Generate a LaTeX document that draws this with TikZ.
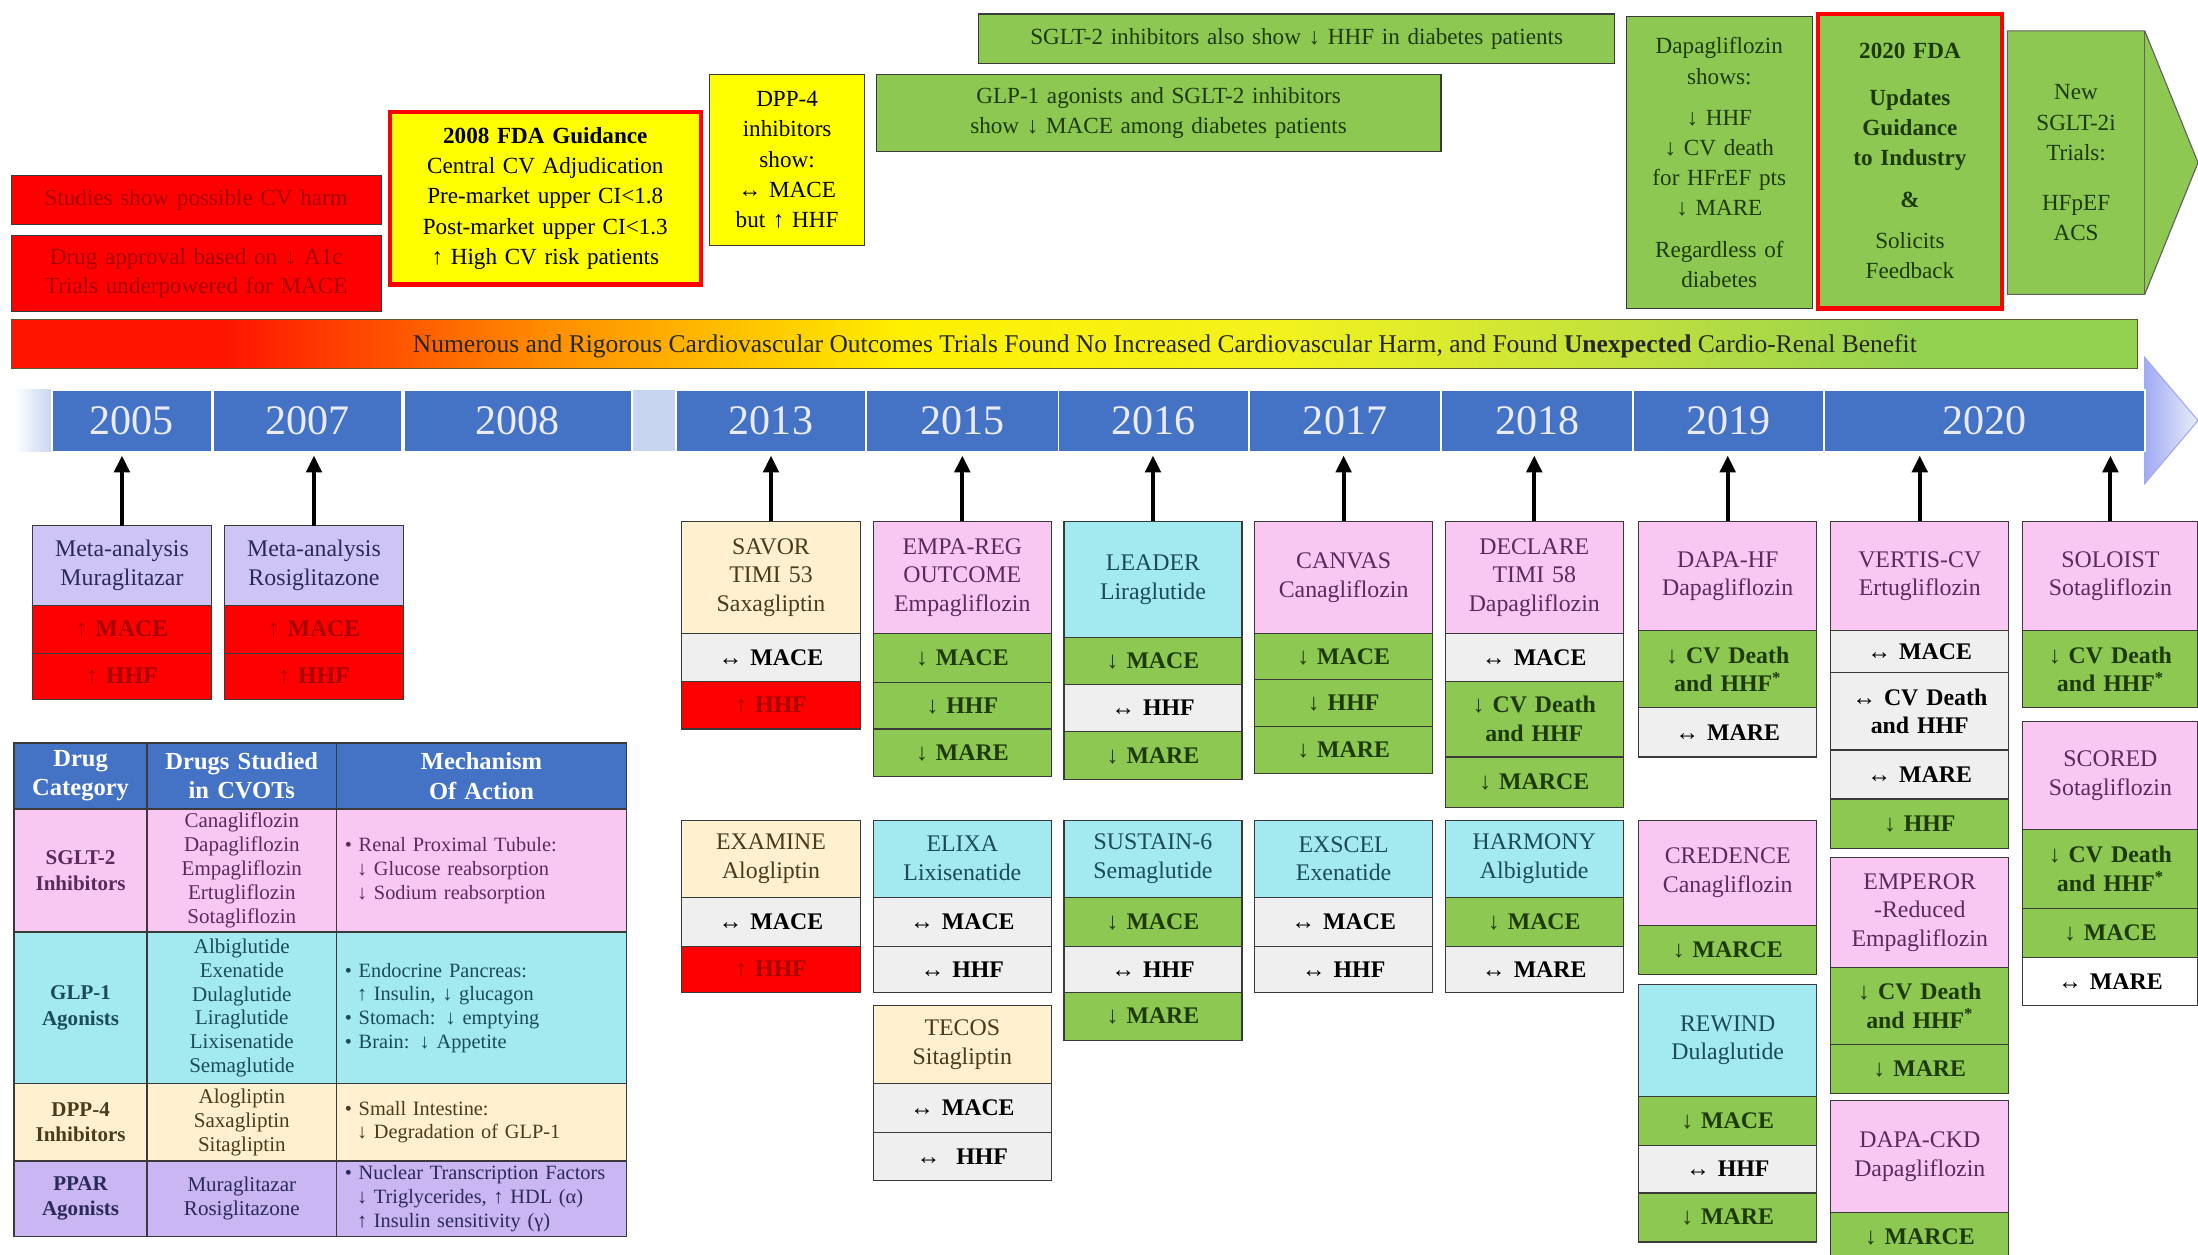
\documentclass[tikz,border=0pt]{standalone}
\usepackage{fontspec}
\setmainfont{Liberation Serif}
\usetikzlibrary{arrows.meta}
\definecolor{cred}{HTML}{FF0000}
\definecolor{credtxt}{HTML}{A80000}
\definecolor{cyel}{HTML}{FFFF00}
\definecolor{cgrn}{HTML}{8DC853}
\definecolor{cgrntxt}{HTML}{1E3A0A}
\definecolor{cpink}{HTML}{F9C8F2}
\definecolor{cpinktxt}{HTML}{5A2A5E}
\definecolor{ccyan}{HTML}{A3E9F0}
\definecolor{ccyantxt}{HTML}{1B4B57}
\definecolor{ccream}{HTML}{FFF1CF}
\definecolor{ccreamtxt}{HTML}{4A3A1E}
\definecolor{clav}{HTML}{CFC5F5}
\definecolor{clavtxt}{HTML}{2A2A5A}
\definecolor{cppar}{HTML}{C9B6F2}
\definecolor{cgray}{HTML}{EFEFEF}
\definecolor{cblue}{HTML}{4472C4}
\definecolor{cpale}{HTML}{C8D5F0}
\definecolor{cbord}{HTML}{3A3A3A}
\definecolor{gA}{HTML}{FF1400}
\definecolor{gB}{HTML}{FF8C00}
\definecolor{gC}{HTML}{FFF000}
\definecolor{gD}{HTML}{F2F21E}
\definecolor{gE}{HTML}{C4E23C}
\definecolor{gF}{HTML}{92D050}
\pgfdeclarehorizontalshading{rygbar}{100bp}{color(0bp)=(gA); color(25bp)=(gA); color(30bp)=(gA); color(37.5bp)=(gB); color(46bp)=(gC); color(55bp)=(gD); color(62.5bp)=(gE); color(70bp)=(gF); color(75bp)=(gF); color(100bp)=(gF)}
\newcommand\mybox[7]{%
  \pgfmathsetmacro\bw{#5-#3}%
  \pgfmathsetmacro\bh{#6-#4}%
  \pgfmathsetmacro\tw{#5-#3-4}%
  \pgfmathsetmacro\twm{#5-#3-12}%
  \pgfmathsetmacro\cx{(#3+#5)/2}%
  \pgfmathsetmacro\cy{(#4+#6)/2}%
  \node[cell, minimum width=\bw pt, minimum height=\bh pt, text width=\tw pt, #2] (#1) at (\cx,\cy) {#7};%
}
\tikzset{
  cell/.style={draw=cbord, line width=0.8pt, inner xsep=2pt, inner ysep=1pt, outer sep=0pt, align=center, font=\fontsize{17}{20.5}\selectfont},
  hpink/.style={fill=cpink, text=cpinktxt},
  hcyan/.style={fill=ccyan, text=ccyantxt},
  hcream/.style={fill=ccream, text=ccreamtxt},
  hlav/.style={fill=clav, text=clavtxt},
  sgreen/.style={fill=cgrn, text=cgrntxt, font=\fontsize{17}{20.5}\selectfont\bfseries},
  sgray/.style={fill=cgray, text=black, font=\fontsize{17}{20.5}\selectfont\bfseries},
  swhite/.style={fill=white, text=black, font=\fontsize{17}{20.5}\selectfont\bfseries},
  sred/.style={fill=cred, text=credtxt, font=\fontsize{17}{20.5}\selectfont\bfseries},
  redbox/.style={fill=cred, text=credtxt, font=\fontsize{16.5}{21}\selectfont},
  fdabox/.style={fill=cyel, draw=red, line width=3pt, text=black, font=\fontsize{16.5}{21.5}\selectfont},
  yelbox/.style={fill=cyel, text=black, font=\fontsize{16.5}{21.5}\selectfont},
  grnbox/.style={fill=cgrn, text=cgrntxt, font=\fontsize{16.5}{21.5}\selectfont},
  yearseg/.style={fill=cblue, draw=white, line width=1.2pt, text=white!92!blue, font=\fontsize{30}{30}\selectfont},
  thead/.style={fill=cblue, text=white, draw=cbord, line width=1.2pt, font=\fontsize{17.5}{21}\selectfont\bfseries},
  tcat/.style={draw=cbord, line width=1.2pt, font=\fontsize{15}{18}\selectfont\bfseries},
  tdrug/.style={draw=cbord, line width=1.2pt, font=\fontsize{15}{17}\selectfont, inner ysep=0pt},
  tmech/.style={draw=cbord, line width=1.2pt, font=\fontsize{14.5}{17}\selectfont, align=left, text width=\twm pt, inner xsep=6pt, inner ysep=0pt},
  uparr/.style={-{Triangle[length=12pt,width=11pt]}, line width=2.8pt, black}
}
\begin{document}
\begin{tikzpicture}[x=1pt, y=-1pt]
\useasboundingbox (0,0) rectangle (1568,895);
\fill[white] (0,0) rectangle (1568,895);

% ---------- top events ----------
\mybox{harm}{redbox}{8}{125}{272}{160}{Studies show possible CV harm}
\mybox{approval}{redbox}{8}{168}{272}{222}{Drug approval based on ↓ A1c\\Trials underpowered for MACE}
\mybox{fda08}{fdabox}{278}{80}{500}{203}{\textbf{2008 FDA Guidance}\\Central CV Adjudication\\Pre-market upper CI<1.8\\Post-market upper CI<1.3\\↑ High CV risk patients}
\mybox{dppshow}{yelbox}{506}{53}{617}{175}{DPP-4\\inhibitors\\show:\\↔ MACE\\but ↑ HHF}
\mybox{glpsglt}{grnbox}{625}{53}{1028}{108}{GLP-1 agonists and SGLT-2 inhibitors\\show ↓ MACE among diabetes patients}
\mybox{sglthhf}{grnbox}{698}{10}{1152}{45}{SGLT-2 inhibitors also show ↓ HHF in diabetes patients}
\mybox{dapashow}{grnbox}{1160}{12}{1293}{220}{Dapagliflozin\\shows:\\[8pt]↓ HHF\\↓ CV death\\for HFrEF pts\\↓ MARE\\[8pt]Regardless of\\diabetes}
\mybox{fda20}{grnbox, draw=red, line width=3pt}{1297}{10}{1428}{220}{\textbf{2020 FDA}\\[12pt]\textbf{Updates}\\\textbf{Guidance}\\\textbf{to Industry}\\[8pt]\textbf{\&}\\[8pt]Solicits\\Feedback}
\filldraw[fill=cgrn, draw=cbord!80, line width=0.8pt] (1432,22) -- (1530,22) -- (1568,116) -- (1530,210) -- (1432,210) -- cycle;
\draw[cbord!80, line width=0.8pt] (1530,22) -- (1530,210);
\node[text=cgrntxt, align=center, font=\fontsize{16.5}{21.5}\selectfont] (newtrials) at (1481,116) {New\\SGLT-2i\\Trials:\\[14pt]HFpEF\\ACS};

% ---------- gradient bar ----------
\node[shade, shading=rygbar, draw=black!45!olive, line width=0.8pt, minimum width=1517pt, minimum height=35pt, inner sep=0pt] (cvbar) at (766.5,245.5) {};
\node[text=black!85, font=\fontsize{18.2}{20}\selectfont, inner sep=0pt] (cvtext) at (831,247) {Numerous and Rigorous Cardiovascular Outcomes Trials Found No Increased Cardiovascular Harm, and Found \textbf{Unexpected} Cardio-Renal Benefit};

% ---------- timeline ----------
\fill[cpale] (37,278) rectangle (1530,322);
\shade[left color=white, right color=cpale] (10,278) rectangle (37,322);
\shade[left color=cpale!80!blue, right color=white!60!cpale, draw=cpale!80!blue, line width=0.8pt] (1530,255) -- (1568,300) -- (1530,345) -- cycle;
\mybox{y05}{yearseg}{37}{278}{151}{322}{2005}
\mybox{y07}{yearseg}{152}{278}{287}{322}{2007}
\mybox{y08}{yearseg}{288}{278}{451}{322}{2008}
\mybox{y13}{yearseg}{482}{278}{618}{322}{2013}
\mybox{y15}{yearseg}{618}{278}{755}{322}{2015}
\mybox{y16}{yearseg}{755}{278}{891}{322}{2016}
\mybox{y17}{yearseg}{891}{278}{1028}{322}{2017}
\mybox{y18}{yearseg}{1028}{278}{1165}{322}{2018}
\mybox{y19}{yearseg}{1165}{278}{1301}{322}{2019}
\mybox{y20}{yearseg}{1301}{278}{1530}{322}{2020}
\coordinate (tlb) at (0,325);

% ---------- studies: 2005 / 2007 ----------
\mybox{mura}{hlav}{23}{375}{151}{432}{Meta-analysis\\Muraglitazar}
\mybox{mura1}{sred}{23}{432}{151}{466}{↑ MACE}
\mybox{mura2}{sred}{23}{466}{151}{499}{↑ HHF}
\mybox{rosi}{hlav}{160}{375}{288}{432}{Meta-analysis\\Rosiglitazone}
\mybox{rosi1}{sred}{160}{432}{288}{466}{↑ MACE}
\mybox{rosi2}{sred}{160}{466}{288}{499}{↑ HHF}

% ---------- 2013 ----------
\mybox{savor}{hcream}{486}{372}{614}{452}{SAVOR\\TIMI 53\\Saxagliptin}
\mybox{savor1}{sgray}{486}{452}{614}{486}{↔ MACE}
\mybox{savor2}{sred}{486}{486}{614}{520}{↑ HHF}
\mybox{examine}{hcream}{486}{585}{614}{640}{EXAMINE\\Alogliptin}
\mybox{examine1}{sgray}{486}{640}{614}{675}{↔ MACE}
\mybox{examine2}{sred}{486}{675}{614}{708}{↑ HHF}

% ---------- 2015 ----------
\mybox{empa}{hpink}{623}{372}{750}{452}{EMPA-REG\\OUTCOME\\Empagliflozin}
\mybox{empa1}{sgreen}{623}{452}{750}{487}{↓ MACE}
\mybox{empa2}{sgreen}{623}{487}{750}{520}{↓ HHF}
\mybox{empa3}{sgreen}{623}{520}{750}{554}{↓ MARE}
\mybox{elixa}{hcyan}{623}{585}{750}{640}{ELIXA\\Lixisenatide}
\mybox{elixa1}{sgray}{623}{640}{750}{675}{↔ MACE}
\mybox{elixa2}{sgray}{623}{675}{750}{708}{↔ HHF}
\mybox{tecos}{hcream}{623}{717}{750}{773}{TECOS\\Sitagliptin}
\mybox{tecos1}{sgray}{623}{773}{750}{808}{↔ MACE}
\mybox{tecos2}{sgray}{623}{808}{750}{842}{↔ \ HHF}

% ---------- 2016 ----------
\mybox{leader}{hcyan}{759}{372}{886}{455}{LEADER\\Liraglutide}
\mybox{leader1}{sgreen}{759}{455}{886}{488}{↓ MACE}
\mybox{leader2}{sgray}{759}{488}{886}{522}{↔ HHF}
\mybox{leader3}{sgreen}{759}{522}{886}{556}{↓ MARE}
\mybox{sustain}{hcyan}{759}{585}{886}{640}{SUSTAIN-6\\Semaglutide}
\mybox{sustain1}{sgreen}{759}{640}{886}{675}{↓ MACE}
\mybox{sustain2}{sgray}{759}{675}{886}{708}{↔ HHF}
\mybox{sustain3}{sgreen}{759}{708}{886}{742}{↓ MARE}

% ---------- 2017 ----------
\mybox{canvas}{hpink}{895}{372}{1022}{452}{CANVAS\\Canagliflozin}
\mybox{canvas1}{sgreen}{895}{452}{1022}{485}{↓ MACE}
\mybox{canvas2}{sgreen}{895}{485}{1022}{518}{↓ HHF}
\mybox{canvas3}{sgreen}{895}{518}{1022}{552}{↓ MARE}
\mybox{exscel}{hcyan}{895}{585}{1022}{640}{EXSCEL\\Exenatide}
\mybox{exscel1}{sgray}{895}{640}{1022}{675}{↔ MACE}
\mybox{exscel2}{sgray}{895}{675}{1022}{708}{↔ HHF}

% ---------- 2018 ----------
\mybox{declare}{hpink}{1031}{372}{1158}{452}{DECLARE\\TIMI 58\\Dapagliflozin}
\mybox{declare1}{sgray}{1031}{452}{1158}{486}{↔ MACE}
\mybox{declare2}{sgreen}{1031}{486}{1158}{540}{↓ CV Death\\and HHF}
\mybox{declare3}{sgreen}{1031}{540}{1158}{576}{↓ MARCE}
\mybox{harmony}{hcyan}{1031}{585}{1158}{640}{HARMONY\\Albiglutide}
\mybox{harmony1}{sgreen}{1031}{640}{1158}{675}{↓ MACE}
\mybox{harmony2}{sgray}{1031}{675}{1158}{708}{↔ MARE}

% ---------- 2019 ----------
\mybox{dapahf}{hpink}{1169}{372}{1296}{450}{DAPA-HF\\Dapagliflozin}
\mybox{dapahf1}{sgreen}{1169}{450}{1296}{505}{↓ CV Death\\and HHF\textsuperscript{*}}
\mybox{dapahf2}{sgray}{1169}{505}{1296}{540}{↔ MARE}
\mybox{credence}{hpink}{1169}{585}{1296}{660}{CREDENCE\\Canagliflozin}
\mybox{credence1}{sgreen}{1169}{660}{1296}{695}{↓ MARCE}
\mybox{rewind}{hcyan}{1169}{702}{1296}{782}{REWIND\\Dulaglutide}
\mybox{rewind1}{sgreen}{1169}{782}{1296}{817}{↓ MACE}
\mybox{rewind2}{sgray}{1169}{817}{1296}{851}{↔ HHF}
\mybox{rewind3}{sgreen}{1169}{851}{1296}{886}{↓ MARE}

% ---------- 2020 ----------
\mybox{vertis}{hpink}{1306}{372}{1433}{450}{VERTIS-CV\\Ertugliflozin}
\mybox{vertis1}{sgray}{1306}{450}{1433}{480}{↔ MACE}
\mybox{vertis2}{sgray}{1306}{480}{1433}{535}{↔ CV Death\\and HHF}
\mybox{vertis3}{sgray}{1306}{535}{1433}{570}{↔ MARE}
\mybox{vertis4}{sgreen}{1306}{570}{1433}{605}{↓ HHF}
\mybox{emperor}{hpink}{1306}{612}{1433}{690}{EMPEROR\\-Reduced\\Empagliflozin}
\mybox{emperor1}{sgreen}{1306}{690}{1433}{745}{↓ CV Death\\and HHF\textsuperscript{*}}
\mybox{emperor2}{sgreen}{1306}{745}{1433}{780}{↓ MARE}
\mybox{dapackd}{hpink}{1306}{785}{1433}{865}{DAPA-CKD\\Dapagliflozin}
\mybox{dapackd1}{sgreen}{1306}{865}{1433}{900}{↓ MARCE}
\mybox{soloist}{hpink}{1443}{372}{1568}{450}{SOLOIST\\Sotagliflozin}
\mybox{soloist1}{sgreen}{1443}{450}{1568}{505}{↓ CV Death\\and HHF\textsuperscript{*}}
\mybox{scored}{hpink}{1443}{515}{1568}{592}{SCORED\\Sotagliflozin}
\mybox{scored1}{sgreen}{1443}{592}{1568}{648}{↓ CV Death\\and HHF\textsuperscript{*}}
\mybox{scored2}{sgreen}{1443}{648}{1568}{683}{↓ MACE}
\mybox{scored3}{swhite}{1443}{683}{1568}{717}{↔ MARE}

% ---------- arrows to timeline ----------
\foreach \s in {mura,rosi,savor,empa,leader,canvas,declare,dapahf,vertis,soloist}{
  \draw[uparr] (\s.north) -- (\s.north |- tlb);
}

% ---------- table ----------
\mybox{th1}{thead}{10}{530}{105}{577}{Drug\\Category}
\mybox{th2}{thead}{105}{530}{240}{577}{Drugs Studied\\in CVOTs}
\mybox{th3}{thead}{240}{530}{447}{577}{Mechanism\\Of Action}
\mybox{sg1}{tcat, fill=cpink, text=cpinktxt}{10}{577}{105}{665}{SGLT-2\\Inhibitors}
\mybox{sg2}{tdrug, fill=cpink, text=cpinktxt}{105}{577}{240}{665}{Canagliflozin\\Dapagliflozin\\Empagliflozin\\Ertugliflozin\\Sotagliflozin}
\mybox{sg3}{tmech, fill=cpink, text=cpinktxt}{240}{577}{447}{665}{• Renal Proximal Tubule:\\\hspace*{0.6em}↓ Glucose reabsorption\\\hspace*{0.6em}↓ Sodium reabsorption}
\mybox{gl1}{tcat, fill=ccyan, text=ccyantxt}{10}{665}{105}{773}{GLP-1\\Agonists}
\mybox{gl2}{tdrug, fill=ccyan, text=ccyantxt}{105}{665}{240}{773}{Albiglutide\\Exenatide\\Dulaglutide\\Liraglutide\\Lixisenatide\\Semaglutide}
\mybox{gl3}{tmech, fill=ccyan, text=ccyantxt}{240}{665}{447}{773}{• Endocrine Pancreas:\\\hspace*{0.6em}↑ Insulin, ↓ glucagon\\• Stomach: ↓ emptying\\• Brain: ↓ Appetite}
\mybox{dp1}{tcat, fill=ccream, text=ccreamtxt}{10}{773}{105}{828}{DPP-4\\Inhibitors}
\mybox{dp2}{tdrug, fill=ccream, text=ccreamtxt}{105}{773}{240}{828}{Alogliptin\\Saxagliptin\\Sitagliptin}
\mybox{dp3}{tmech, fill=ccream, text=ccreamtxt}{240}{773}{447}{828}{• Small Intestine:\\\hspace*{0.6em}↓ Degradation of GLP-1}
\mybox{pp1}{tcat, fill=cppar, text=clavtxt}{10}{828}{105}{882}{PPAR\\Agonists}
\mybox{pp2}{tdrug, fill=cppar, text=clavtxt}{105}{828}{240}{882}{Muraglitazar\\Rosiglitazone}
\mybox{pp3}{tmech, fill=cppar, text=clavtxt}{240}{828}{447}{882}{• Nuclear Transcription Factors\\\hspace*{0.6em}↓ Triglycerides, ↑ HDL (α)\\\hspace*{0.6em}↑ Insulin sensitivity (γ)}
\end{tikzpicture}
\end{document}
